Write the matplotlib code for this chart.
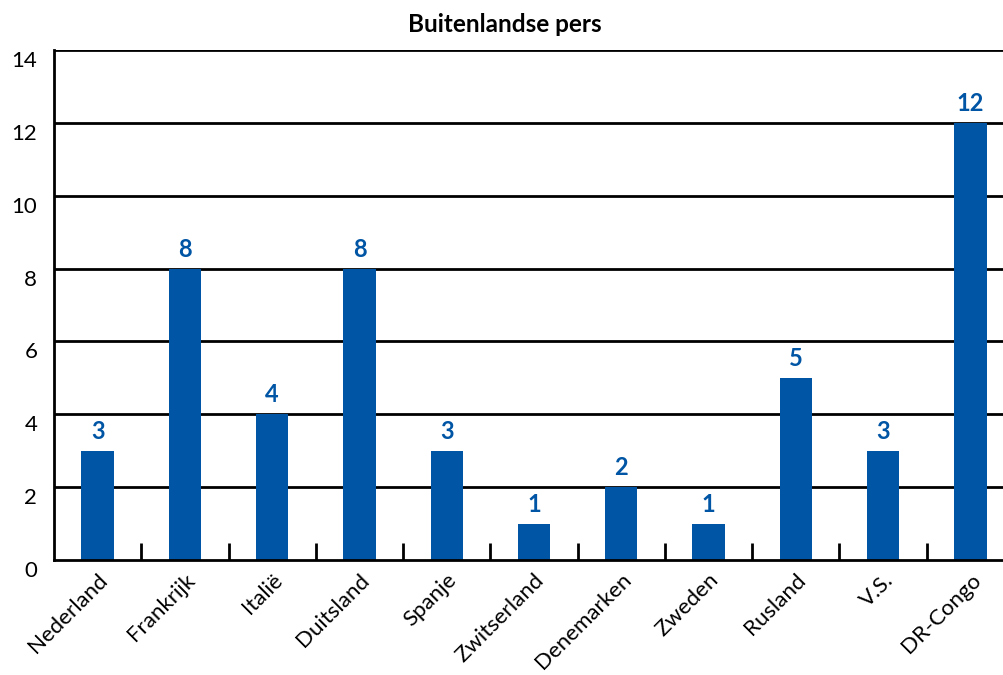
import matplotlib
matplotlib.use("Agg")
import matplotlib.pyplot as plt
import matplotlib.transforms as mtransforms
import numpy as np

categories = ["Nederland", "Frankrijk", "Italië", "Duitsland", "Spanje", "Zwitserland",
              "Denemarken", "Zweden", "Rusland", "V.S.", "DR-Congo"]
values = [3, 8, 4, 8, 3, 1, 2, 1, 5, 3, 12]
title = "Buitenlandse pers"
yticks = [0, 2, 4, 6, 8, 10, 12, 14]

plt.rcParams['font.family'] = ['Lato', 'DejaVu Sans']
blue = "#0055A5"

fig = plt.figure(figsize=(10.04, 6.75), dpi=100)
ax = fig.add_axes([54/1004, 115/675, 960/1004, 510/675])

x = np.arange(len(categories))
ax.bar(x, values, width=0.37, color=blue, zorder=3)
for xi, v in zip(x, values):
    ax.text(xi, v + 0.22, str(v), ha='center', va='bottom', color=blue,
            fontsize=17, fontweight='bold', zorder=4)

ax.set_xlim(-0.5, len(categories) - 0.5)
ax.set_ylim(0, 14)
ax.set_yticks(yticks)
ax.set_yticklabels([str(t) for t in yticks], fontsize=16)
ax.tick_params(axis='y', length=0, pad=12)
offset = mtransforms.ScaledTranslation(0, -9/100, fig.dpi_scale_trans)
for lbl in ax.get_yticklabels():
    lbl.set_transform(lbl.get_transform() + offset)
for t in yticks[1:]:
    ax.axhline(t, color='black', lw=2, zorder=2)

# category boundaries as x ticks pointing up
ax.set_xticks(x[:-1] + 0.5, minor=False)
ax.set_xticklabels([])
ax.tick_params(axis='x', which='major', direction='in', length=12, width=2, color='black')
ax.set_xticks(x, minor=True)
ax.set_xticklabels(categories, minor=True, rotation=45, ha='right', va='top',
                   rotation_mode='anchor', fontsize=16)
ax.tick_params(axis='x', which='minor', length=0, pad=7)

for s in ['top', 'right']:
    ax.spines[s].set_visible(False)
ax.spines['left'].set_linewidth(2)
ax.spines['bottom'].set_linewidth(2)
ax.spines['bottom'].set_zorder(5)

fig.text(0.503, 1 - 25/675, title, ha='center', va='center', fontsize=17.5, fontweight='bold')

fig.savefig("out.png", dpi=100)
